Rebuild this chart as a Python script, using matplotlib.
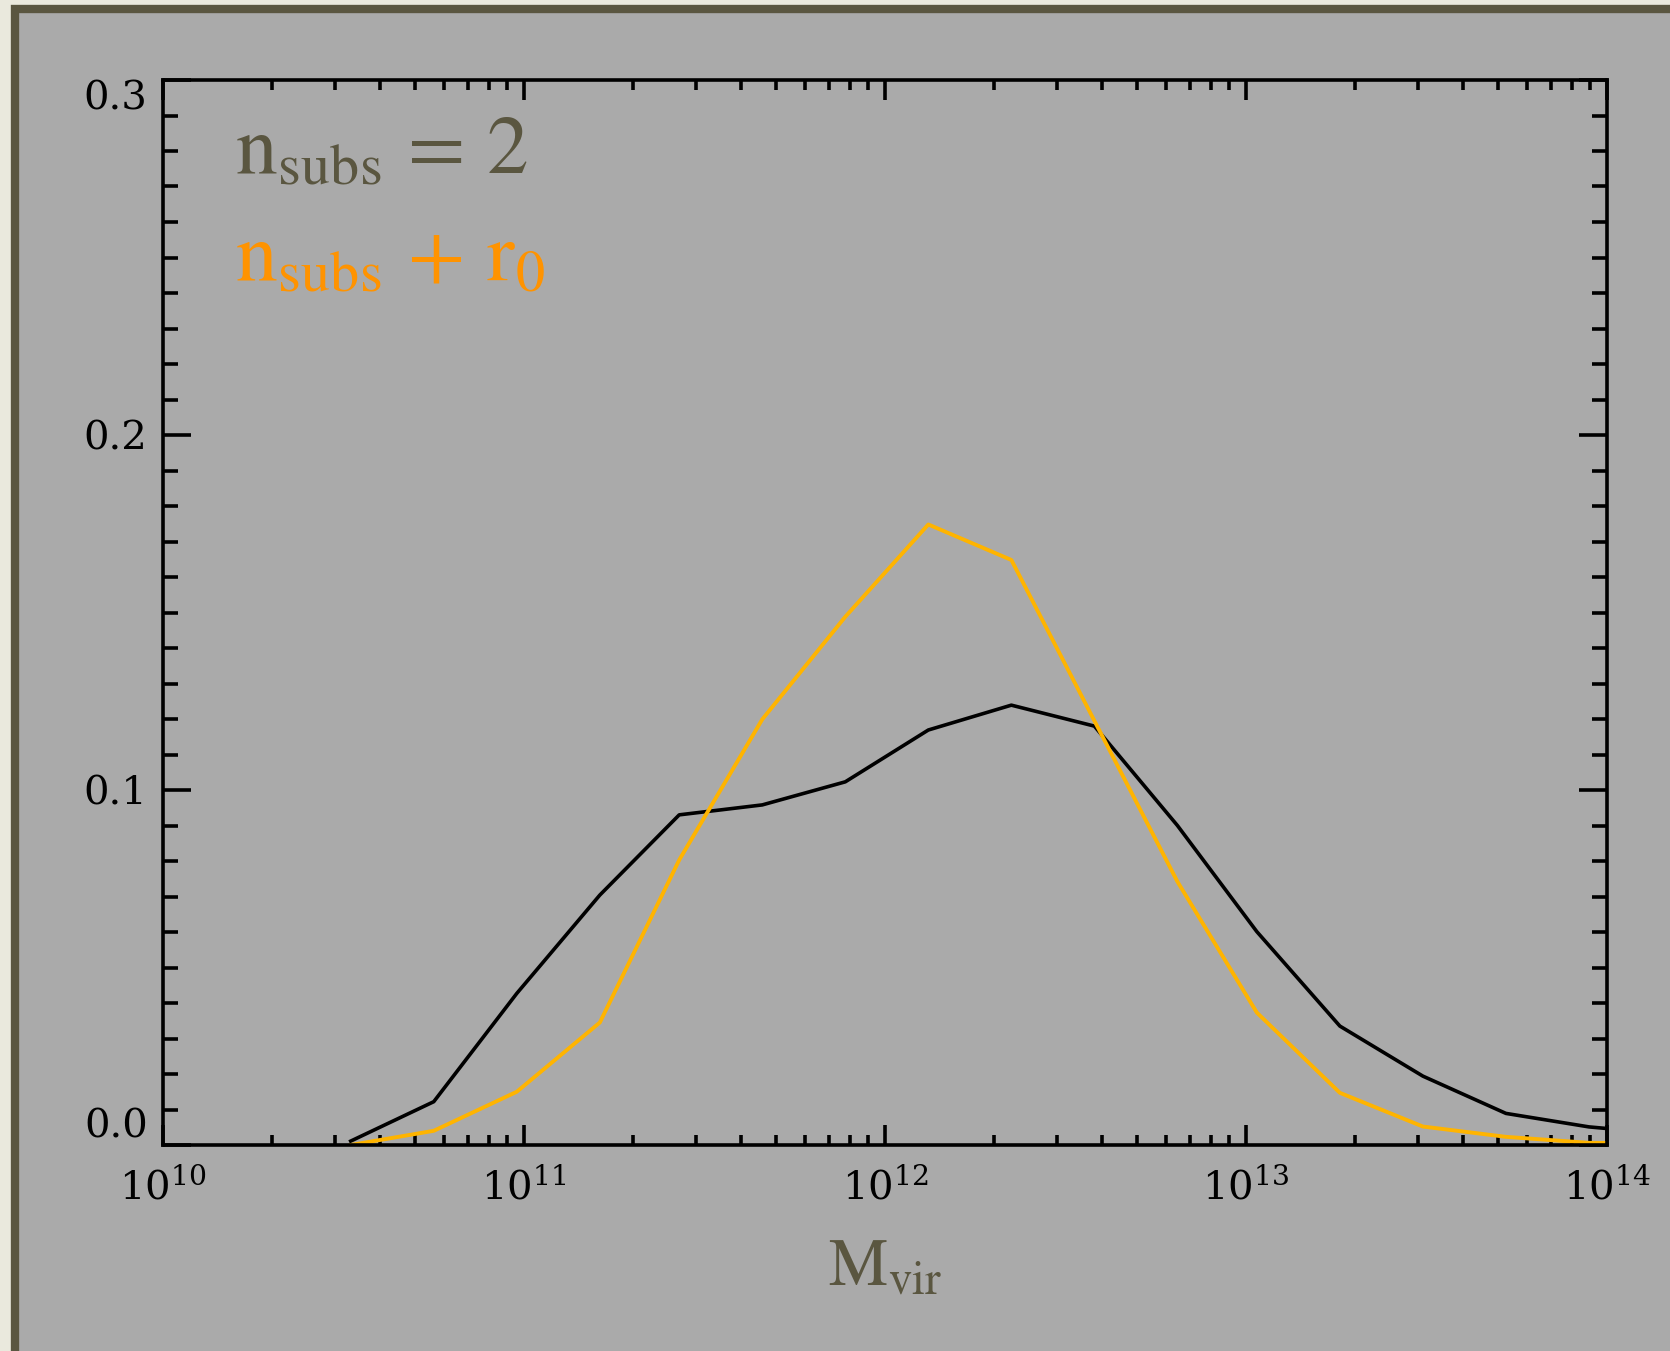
import numpy as np
import matplotlib
matplotlib.use("Agg")
import matplotlib.pyplot as plt
from matplotlib.patches import Rectangle
from matplotlib.ticker import FixedLocator, LogLocator, NullFormatter, MultipleLocator

# halo mass bins (log10 Mvir) and the two distributions
log_mvir = [10.52, 10.75, 10.98, 11.21, 11.43, 11.66, 11.89, 12.12, 12.35,
            12.58, 12.81, 13.03, 13.26, 13.49, 13.72, 13.95, 14.18]
p_nsubs = [0.0011, 0.0122, 0.0427, 0.0704, 0.0930, 0.0958, 0.1023, 0.1169, 0.1239,
           0.1180, 0.0900, 0.0601, 0.0335, 0.0194, 0.0089, 0.0051, 0.0030]
p_nsubs_r0 = [0.0000, 0.0040, 0.0150, 0.0345, 0.0803, 0.1199, 0.1488, 0.1748, 0.1648,
              0.1195, 0.0742, 0.0373, 0.0147, 0.0052, 0.0023, 0.0006, 0.0005]

xticks = [1e10, 1e11, 1e12, 1e13, 1e14]
xticklabels = [r'$10^{10}$', r'$10^{11}$', r'$10^{12}$', r'$10^{13}$', r'$10^{14}$']
yticks = [0.0, 0.1, 0.2, 0.3]
yticklabels = ['0.0', '0.1', '0.2', '0.3']

olive = '#5a5640'
text_orange = '#ff9300'
line_orange = '#ffb400'

plt.rcParams['mathtext.fontset'] = 'dejavuserif'
plt.rcParams['font.family'] = 'DejaVu Serif'

fig = plt.figure(figsize=(16.7, 13.51), dpi=100, facecolor='#eae9dd')

# gray panel with the olive frame
W, H = 1670., 1351.
fig.patches.append(Rectangle((14.5 / W, -0.1), 1.2, (H - 9.5) / H + 0.1,
                             transform=fig.transFigure, facecolor='#aaaaaa',
                             edgecolor=olive, linewidth=6, zorder=-5))

ax = fig.add_axes([163 / W, (H - 1145) / H, (1607 - 163) / W, (1145 - 80) / H])
ax.set_facecolor('none')
ax.set_zorder(2)

mvir = 10 ** np.array(log_mvir)
ax.plot(mvir, p_nsubs, color='black', lw=2.6)
ax.plot(mvir, p_nsubs_r0, color=line_orange, lw=2.8)

ax.set_xscale('log')
ax.set_xlim(1e10, 1e14)
ax.set_ylim(0, 0.3)

for s in ax.spines.values():
    s.set_linewidth(2.6)

ax.xaxis.set_major_locator(FixedLocator(xticks))
ax.set_xticklabels(xticklabels)
ax.xaxis.set_minor_locator(LogLocator(base=10, subs=np.arange(2, 10)))
ax.xaxis.set_minor_formatter(NullFormatter())
ax.set_yticks(yticks)
ax.set_yticklabels(yticklabels)
ax.yaxis.set_minor_locator(MultipleLocator(0.01))

ax.tick_params(axis='both', which='both', direction='in', top=True, right=True,
               width=2.6, colors='black', labelsize=29)
ax.tick_params(axis='x', which='major', length=14.4, pad=16)
ax.tick_params(axis='x', which='minor', length=7.2)
ax.tick_params(axis='y', which='major', length=20, pad=11)
ax.tick_params(axis='y', which='minor', length=10.8)

for lab in ax.get_yticklabels():
    t = lab.get_text()
    if t == '0.3':
        lab.set_va('top')
    elif t == '0.0':
        lab.set_va('bottom')

ax.text(0.05, 0.9127, r'$\mathrm{n_{subs}}\,=\,\mathrm{2}$', transform=ax.transAxes,
        color=olive, fontsize=60, va='baseline', ha='left', math_fontfamily='stix')
ax.text(0.05, 0.8122, r'$\mathrm{n_{subs}}\,+\,\mathrm{r_0}$', transform=ax.transAxes,
        color=text_orange, fontsize=60, va='baseline', ha='left', math_fontfamily='stix')

ax.set_xlabel(r'$\mathrm{M_{vir}}$', color=olive, fontsize=48, labelpad=20,
              math_fontfamily='stix')

fig.savefig('out.png', dpi=100, facecolor=fig.get_facecolor())
